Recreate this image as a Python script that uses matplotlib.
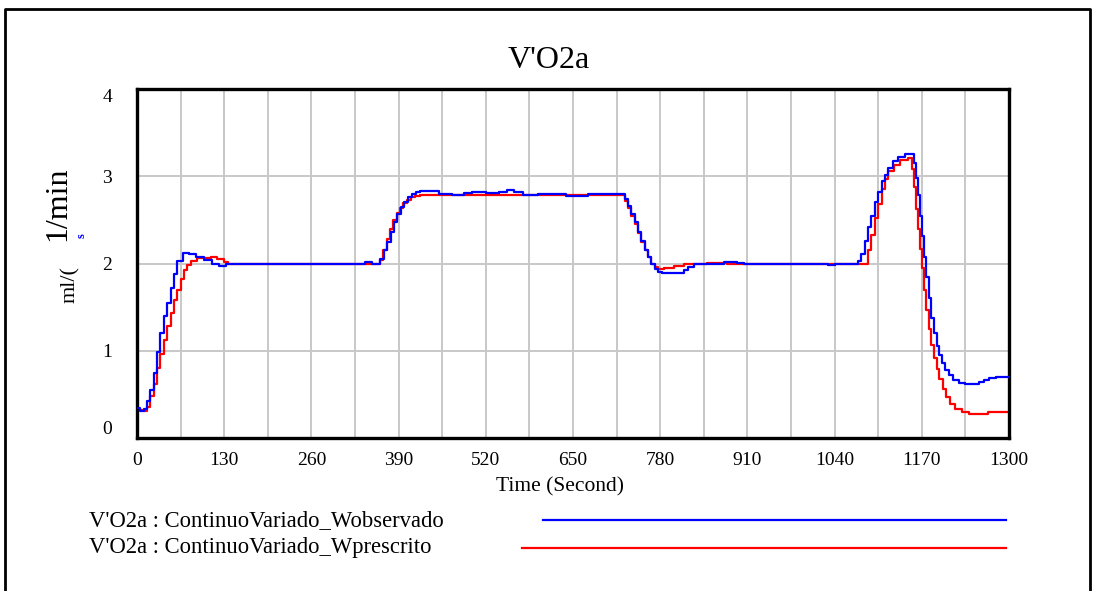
import matplotlib.pyplot as plt
from matplotlib.lines import Line2D

plt.rcParams['font.family'] = ['Liberation Serif', 'DejaVu Serif']

# VO2 observed (blue) - time in s, value in l/min
t_obs = [0, 5, 10, 15, 20, 25, 30, 35, 40, 45, 50, 55, 60, 68, 78, 88, 100,
         112, 122, 132, 340, 350, 362, 368, 373, 378, 383, 388, 393, 398,
         404, 410, 416, 422, 450, 470, 488, 500, 520, 540, 552, 562, 575,
         585, 598, 620, 640, 672, 722, 727, 732, 737, 742, 747, 752, 757,
         762, 767, 772, 777, 782, 815, 822, 830, 840, 875, 895, 905, 915,
         940, 1030, 1040, 1075, 1080, 1085, 1090, 1095, 1100, 1105, 1110,
         1115, 1120, 1127, 1135, 1145, 1158, 1161, 1164, 1167, 1170, 1173,
         1176, 1180, 1184, 1188, 1192, 1196, 1200, 1205, 1210, 1216, 1225,
         1235, 1255, 1262, 1270, 1280]
v_obs = [0.34, 0.31, 0.33, 0.42, 0.55, 0.75, 0.98, 1.20, 1.40, 1.55, 1.72,
         1.88, 2.03, 2.12, 2.11, 2.07, 2.04, 2.00, 1.97, 2.00, 2.02, 2.00,
         2.05, 2.15, 2.25, 2.36, 2.47, 2.57, 2.65, 2.71, 2.76, 2.80, 2.82,
         2.83, 2.80, 2.79, 2.81, 2.82, 2.81, 2.82, 2.84, 2.82, 2.78, 2.78,
         2.80, 2.80, 2.77, 2.80, 2.80, 2.74, 2.66, 2.57, 2.47, 2.36, 2.26,
         2.16, 2.07, 2.00, 1.94, 1.90, 1.89, 1.92, 1.96, 1.99, 2.00, 2.02,
         2.01, 1.99, 2.00, 2.00, 1.98, 2.00, 2.03, 2.11, 2.26, 2.42, 2.55,
         2.70, 2.82, 2.94, 3.02, 3.10, 3.17, 3.22, 3.25, 3.15, 2.98, 2.78,
         2.55, 2.32, 2.08, 1.84, 1.60, 1.38, 1.20, 1.06, 0.95, 0.86, 0.78,
         0.72, 0.67, 0.63, 0.62, 0.64, 0.67, 0.69, 0.70]

# VO2 prescribed (red)
t_pre = [0, 5, 10, 15, 20, 25, 30, 35, 40, 45, 50, 55, 60, 65, 70, 75, 80,
         90, 110, 120, 130, 135, 355, 362, 367, 372, 377, 382, 387, 392,
         397, 402, 408, 415, 422, 720, 727, 732, 737, 742, 747, 752, 757,
         762, 767, 772, 777, 785, 800, 815, 835, 850, 880, 930, 1085, 1090,
         1095, 1100, 1105, 1110, 1115, 1120, 1128, 1138, 1150, 1155, 1158,
         1161, 1164, 1167, 1170, 1173, 1176, 1180, 1184, 1188, 1192, 1196,
         1201, 1206, 1212, 1220, 1230, 1240, 1268]
v_pre = [0.33, 0.32, 0.31, 0.36, 0.48, 0.62, 0.80, 0.96, 1.12, 1.28, 1.43,
         1.58, 1.70, 1.82, 1.92, 1.98, 2.03, 2.06, 2.08, 2.05, 2.02, 2.00,
         2.00, 2.04, 2.15, 2.28, 2.40, 2.50, 2.58, 2.64, 2.69, 2.73, 2.76,
         2.77, 2.78, 2.78, 2.72, 2.64, 2.55, 2.45, 2.35, 2.25, 2.15, 2.07,
         2.00, 1.96, 1.94, 1.95, 1.97, 1.99, 2.00, 2.01, 2.00, 2.00, 2.00,
         2.15, 2.33, 2.52, 2.68, 2.85, 2.97, 3.06, 3.13, 3.19, 3.21, 3.08,
         2.88, 2.62, 2.40, 2.17, 1.95, 1.70, 1.47, 1.25, 1.07, 0.92, 0.79,
         0.68, 0.56, 0.47, 0.39, 0.33, 0.30, 0.28, 0.30]

x_ticks = [0, 130, 260, 390, 520, 650, 780, 910, 1040, 1170, 1300]
y_ticks = [0, 1, 2, 3, 4]

fig = plt.figure(figsize=(10.96, 5.91), dpi=100)
ax = fig.add_axes([137/1096, 1 - 438/591, 872/1096, 349/591])

ax.plot(t_obs + [1300], v_obs + [v_obs[-1]], color='#0000ff', lw=1.6,
        drawstyle='steps-post', zorder=3)
ax.plot(t_pre + [1300], v_pre + [v_pre[-1]], color='#ff0000', lw=1.6,
        drawstyle='steps-post', zorder=2)

ax.set_xlim(0, 1300)
ax.set_ylim(0, 4)
ax.set_xticks(x_ticks)
ax.set_xticks(range(65, 1300, 130), minor=True)
ax.set_yticks(y_ticks)
ax.grid(True, which='both', color='#c8c8c8', lw=1.4, zorder=0)
ax.tick_params(which='both', length=0, labelsize=14)
ax.tick_params(axis='x', pad=10)
ax.tick_params(axis='y', pad=18)
for s in ax.spines.values():
    s.set_linewidth(2.4)
    s.set_color('black')

ylabs = ax.get_yticklabels()
ylabs[0].set_va('bottom')
ylabs[-1].set_va('top')

fig.text(549/1096, 1 - 60/591, "V'O2a", ha='center', va='center', fontsize=23)
fig.text(560/1096, 1 - 487/591, 'Time (Second)', ha='center', va='center',
         fontsize=15.5)

# y-axis label (as rendered in the original)
fig.text(70/1096, 1 - 285/591, 'ml/(', rotation=90, ha='center', va='center',
         fontsize=16)
fig.text(58/1096, 1 - 204/591, '1/min', rotation=90, ha='center',
         va='center', fontsize=23)
fig.text(82/1096, 1 - 236/591, 's', rotation=90, ha='center', va='center',
         fontsize=9, color='#0000ff', fontweight='bold')

# legend rows
fig.text(89/1096, 1 - 521/591, "V'O2a : ContinuoVariado_Wobservado",
         ha='left', va='center', fontsize=16.3)
fig.text(89/1096, 1 - 548/591, "V'O2a : ContinuoVariado_Wprescrito",
         ha='left', va='center', fontsize=16.3)
fig.add_artist(Line2D([543/1096, 1006/1096], [1 - 520/591, 1 - 520/591],
                      color='#0000ff', lw=1.6))
fig.add_artist(Line2D([522/1096, 1006/1096], [1 - 548/591, 1 - 548/591],
                      color='#ff0000', lw=1.6))

# outer frame
fig.add_artist(Line2D([5/1096, 5/1096, 1090/1096, 1090/1096],
                      [0, 1 - 9/591, 1 - 9/591, 0], color='black', lw=2))

fig.savefig('out.png', dpi=100)
